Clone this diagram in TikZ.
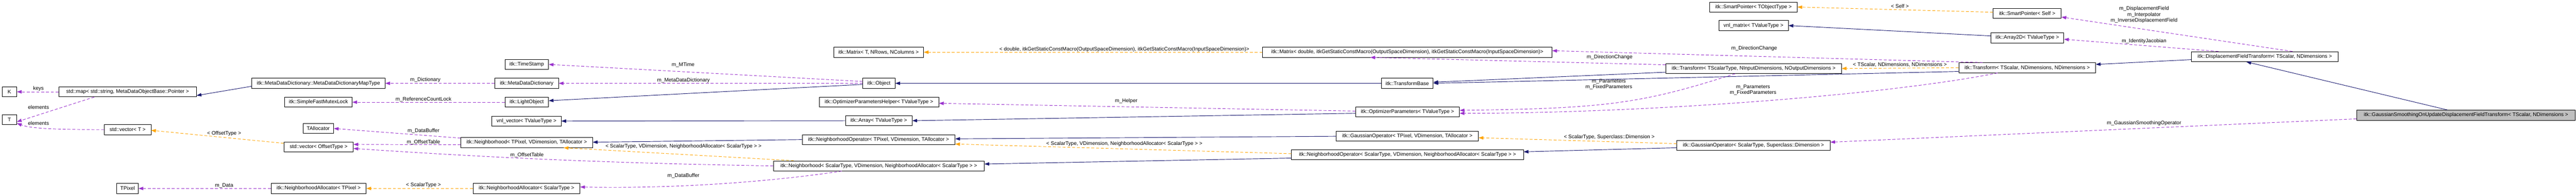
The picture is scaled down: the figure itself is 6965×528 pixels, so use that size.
\documentclass[tikz,border=0pt]{standalone}
\usepackage{fontspec}
\setmainfont{Liberation Sans}
\usetikzlibrary{arrows.meta}
\definecolor{mem}{HTML}{9A32CD}
\definecolor{tpl}{HTML}{FFA500}
\definecolor{inhc}{HTML}{191970}
\tikzset{
  box/.style={draw=black,line width=1.1pt,fill=white,minimum height=27pt,inner sep=0pt,font=\fontsize{14}{16}\selectfont},
  lbl/.style={font=\fontsize{14}{16}\selectfont,inner sep=0pt,align=center},
  memb/.style={draw=mem,line width=1.3pt,dash pattern=on 8pt off 5pt,-{Triangle[length=13pt,width=9pt,fill=mem]}},
  tmpl/.style={draw=tpl,line width=1.3pt,dash pattern=on 8pt off 5pt,-{Triangle[length=13pt,width=9pt,fill=tpl]}},
  inh/.style={draw=inhc,line width=1.3pt,-{Triangle[length=13pt,width=9pt,fill=inhc]}}
}
\newcommand\nd[6][]{\node[box,#1,minimum width={(#4-#3)*1pt}] (#2) at ({(#3+#4)/2},{528-#5}) {#6};}
\newcommand\lb[4]{\node[lbl] (#1) at (#2,{528-#3}) {#4};}
\begin{document}
\begin{tikzpicture}[x=1pt,y=1pt]
\useasboundingbox (0,0) rectangle (6965,528);
\fill[white] (0,0) rectangle (6965,528);
\nd{K}{6}{45}{248}{K}
\nd{map}{159}{531}{248}{std::map< std::string, MetaDataObjectBase::Pointer >}
\nd{mapT}{681}{1041}{225}{itk::MetaDataDictionary::MetaDataDictionaryMapType}
\nd{T}{6}{45}{323}{T}
\nd{vecT}{282}{408}{350}{std::vector< T >}
\nd{mutex}{770}{952}{276}{itk::SimpleFastMutexLock}
\nd{talloc}{819}{902}{347}{TAllocator}
\nd{vecOff}{768}{955}{397}{std::vector< OffsetType >}
\nd{tpix}{316}{374}{509}{TPixel}
\nd{naTP}{733}{990}{509}{itk::NeighborhoodAllocator< TPixel >}
\nd{mdd}{1338}{1510}{225}{itk::MetaDataDictionary}
\nd{ts}{1365}{1483}{174}{itk::TimeStamp}
\nd{lo}{1365}{1483}{276}{itk::LightObject}
\nd{vnlv}{1330}{1517}{327}{vnl\_vector< TValueType >}
\nd{nbTP}{1246}{1602}{385}{itk::Neighborhood< TPixel, VDimension, TAllocator >}
\nd{naST}{1279}{1568}{509}{itk::NeighborhoodAllocator< ScalarType >}
\nd{mat}{2254}{2497}{141}{itk::Matrix< T, NRows, NColumns >}
\nd{obj}{2333}{2420}{225}{itk::Object}
\nd{oph}{2215}{2538}{276}{itk::OptimizerParametersHelper< TValueType >}
\nd{arr}{2286}{2466}{326}{itk::Array< TValueType >}
\nd{noTP}{2169}{2582}{377}{itk::NeighborhoodOperator< TPixel, VDimension, TAllocator >}
\nd{nbST}{2091}{2661}{448}{itk::Neighborhood< ScalarType, VDimension, NeighborhoodAllocator< ScalarType > >}
\nd{matD}{3414}{4196}{141}{itk::Matrix< double, itkGetStaticConstMacro(OutputSpaceDimension), itkGetStaticConstMacro(InputSpaceDimension)>}
\nd{tb}{3735}{3875}{225}{itk::TransformBase}
\nd{op}{3665}{3946}{302}{itk::OptimizerParameters< TValueType >}
\nd{goTP}{3613}{3997}{368}{itk::GaussianOperator< TPixel, VDimension, TAllocator >}
\nd{noST}{3492}{4119}{418}{itk::NeighborhoodOperator< ScalarType, VDimension, NeighborhoodAllocator< ScalarType > >}
\nd{trA}{4504}{4979}{185}{itk::Transform< TScalarType, NInputDimensions, NOutputDimensions >}
\nd{goST}{4534}{4948}{393}{itk::GaussianOperator< ScalarType, Superclass::Dimension >}
\nd{spT}{4623}{4859}{19}{itk::SmartPointer< TObjectType >}
\nd{vnlm}{4647}{4835}{69}{vnl\_matrix< TValueType >}
\nd{spS}{5389}{5573}{36}{itk::SmartPointer< Self >}
\nd{atd}{5383}{5580}{102}{itk::Array2D< TValueType >}
\nd{trB}{5296}{5666}{183}{itk::Transform< TScalar, NDimensions, NDimensions >}
\nd{dft}{5925}{6322}{153}{itk::DisplacementFieldTransform< TScalar, NDimensions >}
\nd[fill={rgb,255:red,191;green,191;blue,191}]{gs}{6372}{6963}{311}{itk::GaussianSmoothingOnUpdateDisplacementFieldTransform< TScalar, NDimensions >}
% connectors
\draw[memb] (map.west) -- (K.east);
\draw[memb] ([xshift=-90pt]map.south) -- ([yshift=-6pt]T.east);
\draw[memb] (vecT.west) .. controls +(-120,0) and +(40,-15) .. ([yshift=-10pt]T.east);
\draw[tmpl] ([yshift=10pt]vecOff.west) -- ([yshift=-2pt]vecT.east);
\draw[inh] ([yshift=-8pt]mapT.west) -- ([yshift=-10pt]map.east);
\draw[memb] (mdd.west) -- (mapT.east);
\draw[memb] (obj.west) -- (mdd.east);
\draw[memb] ([yshift=5pt]obj.west) -- (ts.east);
\draw[inh] ([yshift=-3pt]obj.west) -- ([yshift=4pt]lo.east);
\draw[memb] (lo.west) -- (mutex.east);
\draw[inh] (arr.west) -- (vnlv.east);
\draw[memb] ([yshift=12pt]nbTP.west) -- (talloc.east);
\draw[memb] ([yshift=-6pt]nbTP.west) -- ([yshift=7pt]vecOff.east);
\draw[memb] (nbST.west) .. controls +(-500,8) and +(300,-20) .. ([yshift=-4pt]vecOff.east);
\draw[tmpl] ([xshift=-230pt]nbST.north) -- ([xshift=100pt]nbTP.south);
\draw[memb] ([xshift=-100pt]nbST.south) .. controls +(-200,-30) and +(250,-5) .. ([yshift=4pt]naST.east);
\draw[tmpl] (naST.west) -- (naTP.east);
\draw[memb] (naTP.west) -- (tpix.east);
\draw[inh] (noTP.west) -- ([yshift=1pt]nbTP.east);
\draw[tmpl] ([yshift=3pt]noST.west) -- ([yshift=-12pt]noTP.east);
\draw[inh] ([yshift=-9pt]noST.west) -- ([yshift=5pt]nbST.east);
\draw[inh] (goTP.west) -- ([yshift=2pt]noTP.east);
\draw[tmpl] ([yshift=5pt]goST.west) -- ([yshift=-4pt]goTP.east);
\draw[inh] ([yshift=-6pt]goST.west) -- ([yshift=8pt]noST.east);
\draw[inh] (tb.west) -- (obj.east);
\draw[memb] ([yshift=2pt]op.west) -- ([yshift=-3pt]oph.east);
\draw[inh] ([yshift=-4pt]op.west) -- (arr.east);
\draw[tmpl] (matD.west) -- (mat.east);
\draw[memb] ([yshift=10pt]trA.west) -- ([xshift=-100pt]matD.south);
\draw[inh] ([yshift=-10pt]trA.west) -- ([yshift=3pt]tb.east);
\draw[memb] ([xshift=-50pt]trA.south) .. controls +(-250,-80) and +(400,5) .. ([yshift=4pt]op.east);
\draw[tmpl] (trB.west) -- (trA.east);
\draw[memb] ([xshift=-120pt]trB.north) -- ([yshift=4pt]matD.east);
\draw[inh] ([yshift=-10pt]trB.west) -- (tb.east);
\draw[memb] ([xshift=-80pt]trB.south) .. controls +(-300,-60) and +(500,0) .. ([yshift=-4pt]op.east);
\draw[tmpl] ([yshift=3pt]spS.west) -- (spT.east);
\draw[inh] ([yshift=5pt]atd.west) -- (vnlm.east);
\draw[memb] ([xshift=-125pt]dft.north) -- ([yshift=-4pt]atd.east);
\draw[memb] ([xshift=75pt]dft.north) -- ([yshift=-10pt]spS.east);
\draw[inh] ([yshift=-8pt]dft.west) -- ([yshift=9pt]trB.east);
\draw[inh] ([xshift=-50pt]gs.north) -- ([xshift=-50pt]dft.south);
\draw[memb] ([yshift=-10pt]gs.west) -- ([yshift=9pt]goST.east);
% labels
\lb{l1}{104}{240}{keys}
\lb{l2}{104}{289}{elements}
\lb{l3}{104}{333}{elements}
\lb{l4}{606}{360}{< OffsetType >}
\lb{l5}{606}{501}{m\_Data}
\lb{l6}{1150}{216}{m\_Dictionary}
\lb{l7}{1145}{268}{m\_ReferenceCountLock}
\lb{l8}{1145}{353}{m\_DataBuffer}
\lb{l9}{1145}{384}{m\_OffsetTable}
\lb{l10}{1145}{500}{< ScalarType >}
\lb{l11}{1847}{176}{m\_MTime}
\lb{l12}{1848}{217}{m\_MetaDataDictionary}
\lb{l13}{1848}{395}{< ScalarType, VDimension, NeighborhoodAllocator< ScalarType > >}
\lb{l14}{1425}{419}{m\_OffsetTable}
\lb{l15}{1848}{475}{m\_DataBuffer}
\lb{l16}{3040}{133}{< double, itkGetStaticConstMacro(OutputSpaceDimension), itkGetStaticConstMacro(InputSpaceDimension)>}
\lb{l17}{3045}{273}{m\_Helper}
\lb{l18}{3040}{388}{< ScalarType, VDimension, NeighborhoodAllocator< ScalarType > >}
\lb{l19}{4352}{155}{m\_DirectionChange}
\lb{l20}{4350}{228}{m\_Parameters\\m\_FixedParameters}
\lb{l21}{4743}{131}{m\_DirectionChange}
\lb{l22}{4740}{243}{m\_Parameters\\m\_FixedParameters}
\lb{l23}{4351}{371}{< ScalarType, Superclass::Dimension >}
\lb{l24}{5137}{16}{< Self >}
\lb{l25}{5137}{175}{< TScalar, NDimensions, NDimensions >}
\lb{l26}{5797}{40}{m\_DisplacementField\\m\_Interpolator\\m\_InverseDisplacementField}
\lb{l27}{5797}{112}{m\_IdentityJacobian}
\lb{l28}{5797}{333}{m\_GaussianSmoothingOperator}
\end{tikzpicture}
\end{document}
